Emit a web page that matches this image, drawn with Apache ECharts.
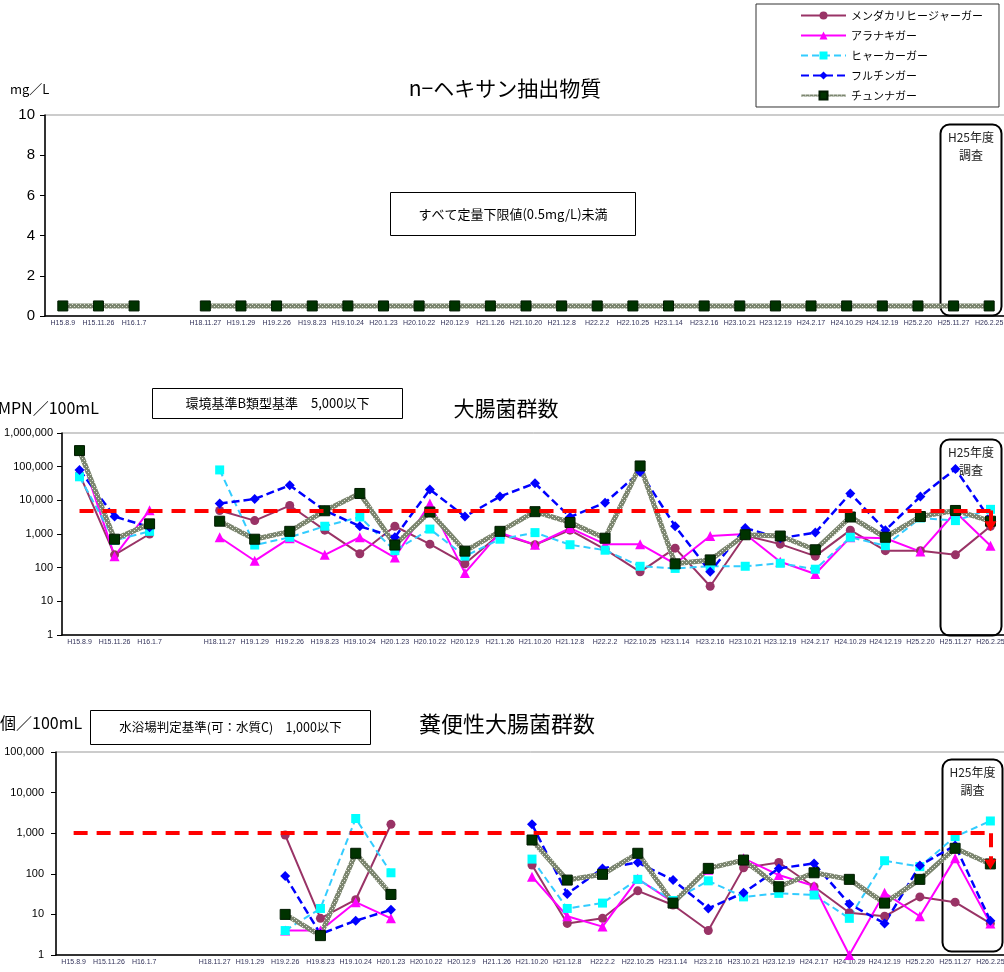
<!DOCTYPE html>
<html>
<head>
<meta charset="utf-8">
<script src="https://cdn.jsdelivr.net/npm/echarts@6/dist/echarts.min.js"></script>
<style>
html, body { margin: 0; padding: 0; background: #fff; }
#main { width: 1004px; height: 972px; }
</style>
</head>
<body>
<div id="main"></div>
<script>
// 調査日
var dates = ['H15.8.9', 'H15.11.26', 'H16.1.7', '', 'H18.11.27', 'H19.1.29', 'H19.2.26', 'H19.8.23', 'H19.10.24',
	'H20.1.23', 'H20.10.22', 'H20.12.9', 'H21.1.26', 'H21.10.20', 'H21.12.8', 'H22.2.2', 'H22.10.25', 'H23.1.14',
	'H23.2.16', 'H23.10.21', 'H23.12.19', 'H24.2.17', 'H24.10.29', 'H24.12.19', 'H25.2.20', 'H25.11.27', 'H26.2.25']
var names = ['メンダカリヒージャーガー', 'アラナキガー', 'ヒャーカーガー', 'フルチンガー', 'チュンナガー']

// n-ヘキサン抽出物質 (mg/L) 全て定量下限値
var hexChun = [0.5, 0.5, 0.5, null, 0.5, 0.5, 0.5, 0.5, 0.5, 0.5, 0.5, 0.5, 0.5, 0.5, 0.5, 0.5, 0.5, 0.5, 0.5, 0.5, 0.5, 0.5, 0.5, 0.5, 0.5, 0.5, 0.5]

// 大腸菌群数 (MPN/100mL)
var coliMendakari = [60000, 240, 1000, null, 5000, 2500, 7000, 1300, 260, 1700, 500, 130, 1000, 480, 1300, 350, 75, 380, 28, 900, 500, 220, 1300, 320, 320, 240, 1700]
var coliAranaki = [300000, 220, 5100, null, 800, 160, 750, 240, 800, 200, 8000, 70, 1100, 480, 1500, 500, 500, 130, 870, 1000, 150, 65, 800, 750, 300, 4500, 450]
var coliHyaka = [50000, 650, 1200, null, 80000, 470, 800, 1700, 3200, 320, 1400, 220, 700, 1100, 480, 330, 110, 95, 110, 110, 135, 90, 800, 450, 3000, 2500, 5400]
var coliFuruchin = [80000, 3300, 1600, null, 8000, 11000, 28000, 5000, 1700, 800, 21000, 3300, 13000, 32000, 3200, 8500, 70000, 1700, 75, 1500, 750, 1100, 16000, 1300, 13000, 85000, 2600]
var coliChun = [300000, 700, 2000, null, 2400, 700, 1200, 4900, 16000, 470, 4500, 310, 1200, 4600, 2200, 750, 105000, 130, 170, 950, 870, 340, 3200, 800, 3300, 5000, 2400]

// 糞便性大腸菌群数 (個/100mL)
var fecMendakari = [null, null, null, null, null, null, 900, 8, 23, 1650, null, null, null, 165, 6, 8, 38, 17, 4, 140, 190, 48, 11, 9, 27, 20, 6]
var fecAranaki = [null, null, null, null, null, null, 4, 4, 20, 8, null, null, null, 85, 9, 5, 75, 20, 125, 240, 93, 50, 1, 34, 9, 240, 6]
var fecHyaka = [null, null, null, null, null, null, 4, 14, 2300, 106, null, null, null, 230, 14, 19, 73, 22, 67, 27, 33, 30, 8, 210, 150, 820, 2000]
var fecFuruchin = [null, null, null, null, null, null, 88, 3.3, 7, 13, null, null, null, 1650, 32, 136, 190, 70, 14, 34, 136, 180, 18, 6, 160, 500, 7]
var fecChun = [null, null, null, null, null, null, 10, 3, 320, 31, null, null, null, 680, 70, 97, 320, 19, 136, 218, 48, 106, 73, 19, 73, 425, 175]

// 基準値
var coliLimit = 5000
var coliArrowTo = 1700
var fecalLimit = 1000
var fecalArrowTo = 170

// チュンナガーの模様線
var pc = document.createElement('canvas')
pc.width = 4
pc.height = 4
var g = pc.getContext('2d')
g.fillStyle = '#7c8670'
g.fillRect(0, 0, 4, 4)
g.fillStyle = '#e4e6da'
g.fillRect(0, 0, 1, 1)
g.fillRect(2, 2, 1, 1)
var chunPattern = { image: pc, repeat: 'repeat' }

var styles = [
	{ symbol: 'circle', size: 9, line: '#993366', marker: '#993366', width: 2, dash: 'solid' },
	{ symbol: 'triangle', size: 10, line: '#ff00ff', marker: '#ff00ff', width: 2, dash: 'solid' },
	{ symbol: 'rect', size: 9, line: '#33ccff', marker: '#00ffff', width: 2, dash: [7, 4] },
	{ symbol: 'diamond', size: 10, line: '#0000ff', marker: '#0000ff', width: 2.5, dash: [8, 4] },
	{ symbol: 'rect', size: 10, line: chunPattern, marker: '#003300', width: 5, dash: 'solid' }
]

function makeSeries(k, data, gi) {
	var st = styles[k]
	return {
		name: names[k],
		type: 'line',
		xAxisIndex: gi,
		yAxisIndex: gi,
		data: data,
		symbol: st.symbol,
		symbolSize: st.size,
		showAllSymbol: true,
		connectNulls: false,
		lineStyle: { color: st.line, width: st.width, type: st.dash },
		itemStyle: { color: st.marker, borderColor: k == 4 ? '#001a00' : st.marker, borderWidth: k == 4 ? 1 : 0 },
		emphasis: { disabled: true },
		animation: false
	}
}

function redLine(limit, arrowTo, startIdx) {
	return {
		silent: true,
		symbol: ['none', 'none'],
		animation: false,
		label: { show: false },
		lineStyle: { color: '#ff0000', width: 4, type: [14, 9], opacity: 1 },
		data: [
			[{ coord: [startIdx, limit] }, { coord: [26.1, limit] }],
			[{ coord: [26.1, limit], symbol: 'none' }, { coord: [26.1, arrowTo], symbol: 'triangle', symbolSize: [12, 10] }]
		]
	}
}

var grids = [
	{ left: 45, top: 115, width: 962, height: 201 },
	{ left: 62, top: 433, width: 946, height: 202 },
	{ left: 56, top: 752, width: 952, height: 203 }
]
grids.forEach(function(gr) {
	gr.show = true
	gr.borderColor = '#999'
	gr.borderWidth = 1
	gr.containLabel = false
	gr.outerBoundsMode = 'none'
})

function makeX(gi) {
	return {
		type: 'category',
		gridIndex: gi,
		data: dates,
		axisLine: { lineStyle: { color: '#000', width: 1.5 } },
		axisTick: { lineStyle: { color: '#000' }, length: 3 },
		axisLabel: { interval: 0, fontSize: 7, color: '#33335a', fontFamily: 'Liberation Sans', margin: 4 },
		splitLine: { show: false }
	}
}
function logLabel(v) {
	return Number(v).toLocaleString('en-US')
}

var yAxes = [
	{
		type: 'value', gridIndex: 0, min: 0, max: 10, interval: 2,
		axisLine: { show: true, lineStyle: { color: '#000', width: 1.5 } },
		axisTick: { show: true, lineStyle: { color: '#000' } },
		axisLabel: { fontSize: 15, color: '#000', fontFamily: 'Liberation Sans', margin: 10 },
		splitLine: { show: false }
	},
	{
		type: 'log', gridIndex: 1, min: 1, max: 1000000, logBase: 10,
		axisLine: { show: true, lineStyle: { color: '#000', width: 1.5 } },
		axisTick: { show: true, lineStyle: { color: '#000' } },
		axisLabel: { fontSize: 11, color: '#000', fontFamily: 'Liberation Sans', margin: 9, formatter: logLabel },
		splitLine: { show: false },
		minorTick: { show: false }
	},
	{
		type: 'log', gridIndex: 2, min: 1, max: 100000, logBase: 10,
		axisLine: { show: true, lineStyle: { color: '#000', width: 1.5 } },
		axisTick: { show: true, lineStyle: { color: '#000' } },
		axisLabel: { fontSize: 11, color: '#000', fontFamily: 'Liberation Sans', margin: 12, formatter: logLabel },
		splitLine: { show: false },
		minorTick: { show: false }
	}
]

var series = []
series.push(makeSeries(4, hexChun, 0))
var coliSets = [coliMendakari, coliAranaki, coliHyaka, coliFuruchin, coliChun]
var fecSets = [fecMendakari, fecAranaki, fecHyaka, fecFuruchin, fecChun]
coliSets.forEach(function(d, k) { series.push(makeSeries(k, d, 1)) })
fecSets.forEach(function(d, k) { series.push(makeSeries(k, d, 2)) })
series[5].markLine = redLine(coliLimit, coliArrowTo, 0.2)
series[10].markLine = redLine(fecalLimit, fecalArrowTo, -0.45)

var jp = '"Noto Sans CJK JP"'
function textBox(x, y, w, h, txt, size) {
	return {
		type: 'group', left: x, top: y, children: [
			{ type: 'rect', shape: { x: 0, y: 0, width: w, height: h }, style: { fill: '#fff', stroke: '#000', lineWidth: 1 } },
			{ type: 'text', x: w / 2, y: h / 2, style: { text: txt, fontSize: size, fontFamily: jp, fill: '#000', align: 'center', verticalAlign: 'middle' } }
		]
	}
}
function h25Box(x, y, w, h) {
	return {
		type: 'group', left: x, top: y, children: [
			{ type: 'rect', shape: { x: 0, y: 0, width: w, height: h, r: 9 }, style: { fill: 'none', stroke: '#000', lineWidth: 2 } },
			{ type: 'text', x: w / 2, y: 4, style: { text: 'H25年度\n調査', fontSize: 12, lineHeight: 18, fontFamily: jp, fill: '#222', align: 'center', verticalAlign: 'top' } }
		]
	}
}
function label(x, y, txt, size, align) {
	return { type: 'text', x: x, y: y, style: { text: txt, fontSize: size, fontFamily: jp, fill: '#000', align: align || 'left', verticalAlign: 'middle' } }
}

var optionMap = {
	backgroundColor: '#fff',
	animation: false,
	legend: {
		orient: 'vertical',
		left: 756,
		top: 4,
		padding: [6, 16, 6, 44],
		itemWidth: 45,
		itemHeight: 10,
		itemGap: 9,
		borderColor: '#333',
		borderWidth: 1,
		selectedMode: false,
		data: names,
		textStyle: { fontSize: 11, fontFamily: jp, color: '#000' }
	},
	grid: grids,
	xAxis: [makeX(0), makeX(1), makeX(2)],
	yAxis: yAxes,
	series: series,
	graphic: [
		label(10, 89, 'mg／L', 13),
		label(505, 88, 'n−ヘキサン抽出物質', 21, 'center'),
		label(-2, 408, 'MPN／100mL', 16),
		label(506, 408, '大腸菌群数', 21, 'center'),
		label(0, 723, '個／100mL', 16),
		label(507, 724, '糞便性大腸菌群数', 22, 'center'),
		textBox(390, 192, 245, 43, 'すべて定量下限値(0.5mg/L)未満', 13),
		textBox(152, 388, 250, 30, '環境基準B類型基準　5,000以下', 13),
		textBox(90, 710, 280, 34, '水浴場判定基準(可：水質C)　1,000以下', 12.5),
		h25Box(938, 122, 61, 191),
		h25Box(938, 437, 61, 196),
		h25Box(940, 757, 60, 192)
	]
}

var myChart = echarts.init(document.getElementById('main'))
myChart.setOption(optionMap)
</script>
</body>
</html>
